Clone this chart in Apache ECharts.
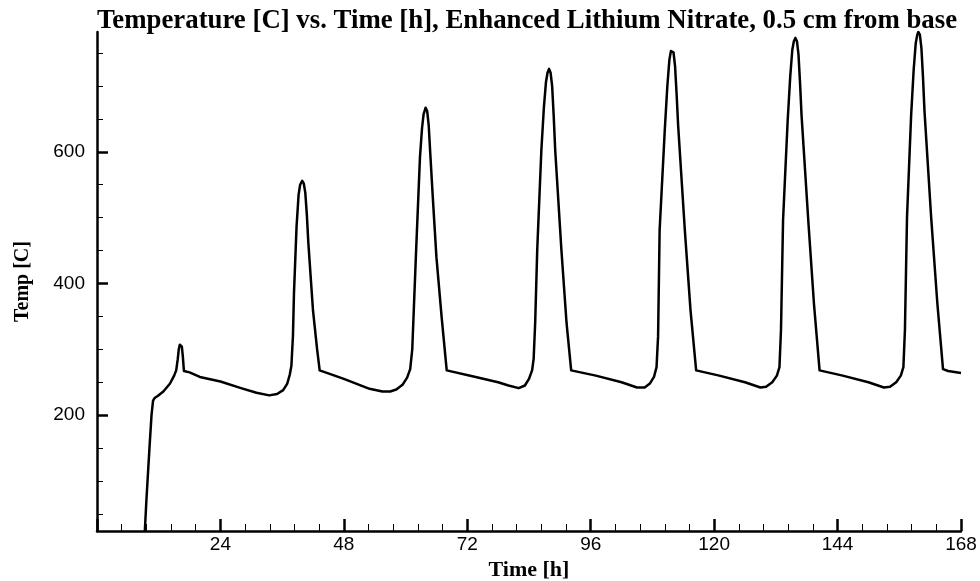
<!DOCTYPE html>
<html>
<head>
<meta charset="utf-8">
<title>Temperature vs. Time</title>
<script src="https://cdn.jsdelivr.net/npm/echarts@6/dist/echarts.min.js"></script>
<style>
  html, body { margin: 0; padding: 0; background: #fff; }
  #chart { width: 980px; height: 581px; }
</style>
</head>
<body>
<div id="chart"></div>
<script>
// Time samples [h] and measured temperatures [C], 0.5 cm from the base
const timeH = [
  9.3, 9.6, 10.2, 10.6, 10.9, 11.2, 11.8, 12.9, 14.2, 15.0, 15.4, 15.7, 15.9, 16.1, 16.3, 16.5, 16.7, 16.9,
  18.0, 20.0, 24.0, 28.0, 31.0, 33.5, 35.0, 36.2, 37.0, 37.5, 37.8, 38.1, 38.3, 38.8, 39.2, 39.5, 39.9,
  40.2, 40.5, 40.8, 41.1, 42.0, 42.8, 43.3,
  48.0, 53.0, 55.5, 57.0, 58.2, 59.4, 60.3, 60.9, 61.3, 61.6, 62.0, 62.8, 63.2, 63.5, 63.9, 64.2, 64.5, 64.8, 65.3, 66.0, 67.0, 68.0,
  73.0, 78.0, 80.0, 82.0, 83.2, 84.0, 84.6, 84.9, 85.2, 85.6, 86.4, 86.9, 87.3, 87.6, 87.9, 88.2, 88.5, 88.8, 89.1, 90.3, 91.3, 92.2,
  97.0, 102.0, 105.0, 106.5, 107.5, 108.3, 108.8, 109.1, 109.4, 110.4, 110.9, 111.3, 111.6, 111.8, 112.1, 112.4, 112.7, 113.0, 114.3, 115.4, 116.5,
  121.0, 126.0, 129.0, 130.1, 131.3, 132.2, 132.7, 133.0, 133.4, 134.3, 134.8, 135.2, 135.5, 135.8, 136.1, 136.4, 136.7, 137.0, 138.3, 139.4, 140.5,
  145.0, 150.0, 153.0, 154.2, 155.4, 156.3, 156.8, 157.1, 157.5, 158.3, 158.8, 159.2, 159.5, 159.7, 160.0, 160.3, 160.6, 160.9, 162.2, 163.4, 164.5,
  165.5, 168.0
];
const tempC = [
  24, 70, 150, 200, 222, 226, 229, 236, 248, 260, 268, 285, 300, 307, 309, 304, 288, 267,
  265, 258, 251, 241, 234, 230, 232, 238, 248, 262, 275, 320, 385, 486, 535, 550, 556,
  552, 538, 505, 461, 359, 300, 268,
  255, 240, 236, 236, 239, 246, 257, 270, 300, 360, 440, 592, 636, 657, 667, 662, 640, 598, 530, 440, 350, 268,
  259, 250, 245, 241, 245, 255, 268, 285, 340, 451, 602, 668, 706, 720, 726, 720, 700, 655, 602, 451, 340, 268,
  260, 250, 242, 242, 248, 258, 273, 320, 481, 633, 700, 740, 753, 756, 751, 730, 688, 640, 481, 360, 268,
  260, 250, 242, 243, 250, 260, 273, 330, 496, 648, 715, 755, 768, 773, 768, 748, 705, 655, 496, 370, 268,
  260, 250, 242, 243, 250, 260, 273, 330, 500, 655, 725, 765, 778, 782, 778, 758, 715, 662, 500, 370, 270,
  267, 264
];

// Axis ticks
const xTicks = [24, 48, 72, 96, 120, 144, 168];
const yMajorTicks = [200, 400, 600];
const yMinorTicks = [50, 100, 150, 250, 300, 350, 450, 500, 550, 650, 700, 750];

const points = timeH.map((t, i) => [t, tempC[i]]);

const chart = echarts.init(document.getElementById('chart'), null, { renderer: 'canvas' });

const sansFont = '"Liberation Sans", Arial, sans-serif';
const serifFont = '"Liberation Serif", "Times New Roman", serif';

const yBase = {
  type: 'value',
  min: 24,
  max: 782,
  position: 'left',
  splitLine: { show: false }
};

chart.setOption({
  animation: false,
  backgroundColor: '#ffffff',
  title: {
    text: 'Temperature [C] vs. Time [h], Enhanced Lithium Nitrate, 0.5 cm from base',
    left: 522,
    top: 3,
    textAlign: 'center',
    textStyle: { fontFamily: serifFont, fontWeight: 'bold', fontSize: 26.8, color: '#000' }
  },
  grid: { left: 97, right: 19, top: 32, bottom: 50, containLabel: false, outerBoundsMode: 'none' },
  xAxis: {
    type: 'value',
    min: 0,
    max: 168,
    interval: 24,
    name: 'Time [h]',
    nameLocation: 'middle',
    nameGap: 19,
    nameTextStyle: { fontFamily: serifFont, fontWeight: 'bold', fontSize: 22, color: '#000' },
    axisLine: { show: true, onZero: false, lineStyle: { color: '#000', width: 2.5 } },
    axisTick: { show: true, inside: true, length: 12, lineStyle: { color: '#000', width: 2.5 } },
    minorTick: { show: true, splitNumber: 5, length: 7, lineStyle: { color: '#000', width: 1 } },
    axisLabel: {
      show: true,
      margin: 4,
      fontFamily: sansFont,
      fontSize: 19,
      color: '#000',
      showMinLabel: false,
      formatter: v => (xTicks.indexOf(v) >= 0 ? String(v) : '')
    },
    splitLine: { show: false }
  },
  yAxis: [
    Object.assign({}, yBase, {
      name: 'Temp [C]',
      nameLocation: 'middle',
      nameGap: 64,
      nameRotate: 90,
      nameTextStyle: { fontFamily: serifFont, fontWeight: 'bold', fontSize: 20, color: '#000' },
      axisLine: { show: true, onZero: false, lineStyle: { color: '#000', width: 2.5 } },
      axisTick: { show: true, inside: true, length: 11, customValues: yMajorTicks, lineStyle: { color: '#000', width: 2.5 } },
      axisLabel: { show: true, margin: 12, fontFamily: sansFont, fontSize: 19, color: '#000', customValues: yMajorTicks }
    }),
    Object.assign({}, yBase, {
      offset: 0,
      axisLine: { show: false },
      axisTick: { show: true, inside: true, length: 6, customValues: yMinorTicks, lineStyle: { color: '#000', width: 1 } },
      axisLabel: { show: false, customValues: yMinorTicks }
    })
  ],
  series: [{
    type: 'line',
    data: points,
    xAxisIndex: 0,
    yAxisIndex: 0,
    showSymbol: false,
    smooth: false,
    clip: true,
    lineStyle: { color: '#000', width: 2.5, join: 'round' }
  }]
});
</script>
</body>
</html>
